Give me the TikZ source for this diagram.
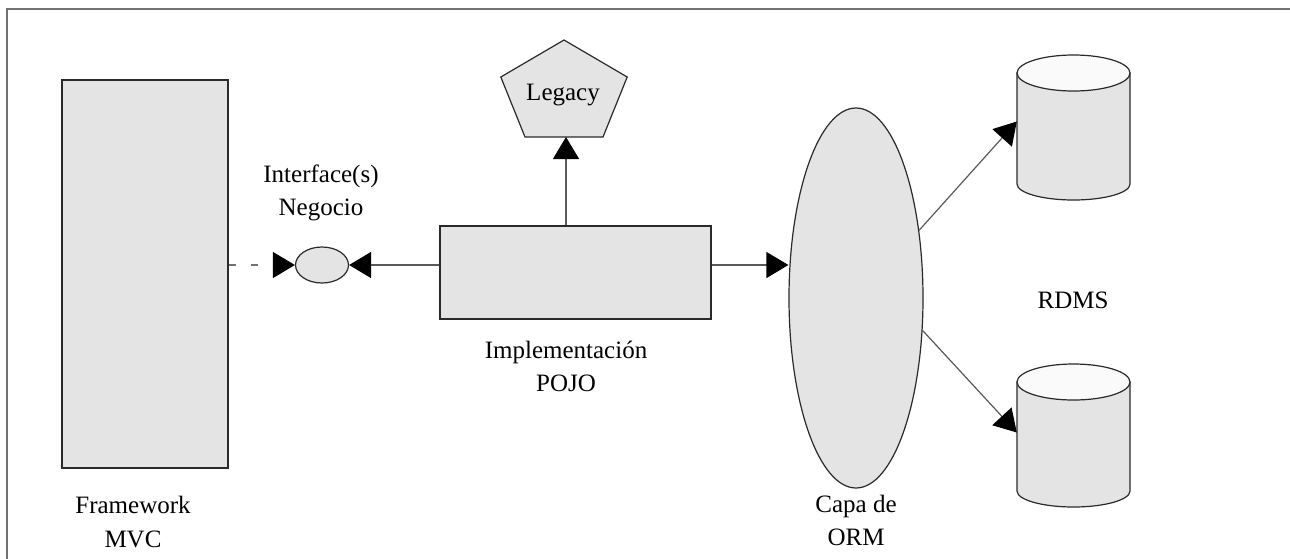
\documentclass[tikz,border=0pt]{standalone}
\usepackage{fontspec}
\setmainfont{Liberation Serif}
\usetikzlibrary{shapes.geometric,arrows.meta,calc}
\definecolor{boxgray}{HTML}{E4E4E4}
\definecolor{capgray}{HTML}{FAFAFA}
\definecolor{edge}{HTML}{2A2A2A}
\tikzset{
  shapebox/.style={draw=edge, line width=1.2pt, fill=boxgray, inner sep=0pt},
  lbl/.style={font=\fontsize{25}{33}\selectfont, align=center, inner sep=0pt},
  link/.style={draw=black!65, line width=1.2pt},
  tip/.style={-{Triangle[length=22pt,width=26pt,color=black]}},
  pics/dbcyl/.style={code={
    \path[shapebox] (-56.5,0) -- (-56.5,-#1)
      arc[start angle=180,end angle=360,x radius=56.5pt,y radius=16pt]
      -- (56.5,0) -- cycle;
    \draw[draw=edge, line width=1.2pt, fill=capgray] (0,0) ellipse[x radius=56.5pt, y radius=18pt];
  }}
}
\begin{document}
\begin{tikzpicture}[x=1pt,y=1pt]
\useasboundingbox (0,0) rectangle (1290,-558);
% outer frame (left and top edges)
\draw[black!55, line width=1.8pt] (7,-570) -- (7,-9) -- (1300,-9);

% web framework block
\node[shapebox, rectangle, minimum width=166pt, minimum height=388pt] (mvc) at (145,-274) {};
\node[lbl, anchor=base] (mvclbl) at (133,-547) {Framework\\[1pt]MVC};

% business interface
\node[shapebox, ellipse, minimum width=53pt, minimum height=36pt] (iface) at (322,-265) {};
\node[lbl, anchor=base] (ifacelbl) at (321,-215) {Interface(s)\\Negocio};

% implementation
\node[shapebox, rectangle, minimum width=271pt, minimum height=93pt] (impl) at (575.5,-272.5) {};
\node[lbl, anchor=base] (impllbl) at (566,-391) {Implementación\\POJO};

% legacy system (stretched pentagon)
\path[shapebox] (564,-40) -- (627.2,-77) -- (603,-137) -- (525,-137) -- (500.8,-77) -- cycle;
\coordinate (legb) at (566,-137);
\node[lbl, anchor=base] (legacy) at (563,-100) {Legacy};

% ORM layer
\node[shapebox, ellipse, minimum width=134pt, minimum height=380pt] (orm) at (856,-298) {};
\node[lbl, anchor=base] (ormlbl) at (856,-545) {Capa de\\ORM};

% databases
\pic at (1073.5,-73) {dbcyl=111};
\pic at (1073.5,-382) {dbcyl=109};
\node[inner sep=0pt, minimum width=113pt, minimum height=145pt] (db1) at (1073.5,-127.5) {};
\node[inner sep=0pt, minimum width=113pt, minimum height=143pt] (db2) at (1073.5,-435.5) {};
\node[lbl, anchor=base] (rdms) at (1073,-308) {RDMS};

% connectors
\draw[link, tip, black!55, dash pattern=on 7pt off 15pt] (mvc.east |- iface) -- (iface.west);
\draw[link, tip] (impl.west |- iface) -- (iface.east);
\draw[link, tip] (impl.north -| legb) -- (legb);
\draw[link, tip] (impl.east |- iface) -- (orm.west |- iface);
\draw[link, tip] (orm.47) -- ([yshift=6pt]db1.west);
\draw[link, tip] (orm.-26) -- ([yshift=3pt]db2.west);
\end{tikzpicture}
\end{document}
